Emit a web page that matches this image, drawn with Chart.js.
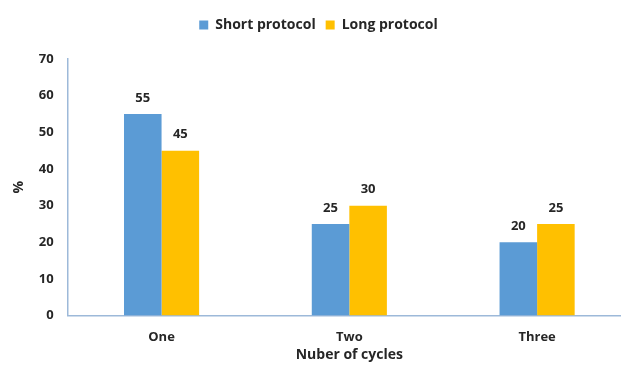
<!DOCTYPE html>
<html>
<head>
<meta charset="utf-8">
<script src="https://cdn.jsdelivr.net/npm/chart.js@4/dist/chart.umd.min.js"></script>
<style>
  html, body { margin: 0; padding: 0; background: #ffffff; overflow: hidden; }
  #wrap { width: 621px; height: 370px; overflow: hidden; }
  canvas { display: block; }
</style>
</head>
<body>
<div id="wrap"><canvas id="c" width="641" height="370"></canvas></div>
<script>
const categories = ['One', 'Two', 'Three'];
const shortProtocol = [55, 25, 20];
const longProtocol = [45, 30, 25];
const yTicks = [0, 10, 20, 30, 40, 50, 60, 70];

const FONT = "'Open Sans', 'Liberation Sans', sans-serif";
const INK = '#262626';

// Writes each bar's value just above it
const valueLabels = {
  id: 'valueLabels',
  afterDatasetsDraw(chart) {
    const ctx = chart.ctx;
    ctx.save();
    ctx.font = "bold 13px " + FONT;
    ctx.fillStyle = INK;
    ctx.textAlign = 'center';
    ctx.textBaseline = 'middle';
    chart.data.datasets.forEach((ds, i) => {
      chart.getDatasetMeta(i).data.forEach((bar, j) => {
        ctx.fillText(String(ds.data[j]), bar.x, bar.y - 16);
      });
    });
    ctx.restore();
  }
};

// Leaves extra room between the legend and the plot
const legendGap = {
  id: 'legendGap',
  beforeInit(chart) {
    const fit = chart.legend.fit;
    chart.legend.fit = function () {
      fit.call(this);
      this.height += 17;
    };
  }
};

new Chart(document.getElementById('c'), {
  type: 'bar',
  data: {
    labels: categories,
    datasets: [
      { label: 'Short protocol', data: shortProtocol, backgroundColor: '#5B9BD5', borderWidth: 0 },
      { label: 'Long protocol', data: longProtocol, backgroundColor: '#FFC000', borderWidth: 0 }
    ]
  },
  options: {
    responsive: false,
    animation: false,
    datasets: { bar: { categoryPercentage: 0.4, barPercentage: 1.0 } },
    layout: { padding: { left: 6, right: 10, top: 8, bottom: 7 } },
    plugins: {
      legend: {
        position: 'top',
        labels: {
          boxWidth: 9, boxHeight: 9, padding: 10,
          color: INK,
          font: { family: FONT, size: 14, weight: 'bold' }
        }
      },
      tooltip: { enabled: false }
    },
    scales: {
      x: {
        grid: { display: false, drawTicks: false },
        border: { display: true, color: '#9DB9D9', width: 1.5 },
        ticks: { color: INK, padding: 14, font: { family: FONT, size: 13, weight: 'bold' } },
        title: { display: true, text: 'Nuber of cycles', color: INK, padding: { top: -13, bottom: 0 }, font: { family: FONT, size: 14, weight: 'bold' } }
      },
      y: {
        min: 0, max: 70,
        afterBuildTicks(axis) { axis.ticks = yTicks.map(v => ({ value: v })); },
        grid: { display: false, drawTicks: false },
        border: { display: true, color: '#9DB9D9', width: 1.5 },
        ticks: { color: INK, padding: 14, font: { family: FONT, size: 13, weight: 'bold' } },
        title: { display: true, text: '%', color: INK, padding: { top: 5, bottom: -3 }, font: { family: FONT, size: 14, weight: 'bold' } }
      }
    }
  },
  plugins: [valueLabels, legendGap]
});
</script>
</body>
</html>
